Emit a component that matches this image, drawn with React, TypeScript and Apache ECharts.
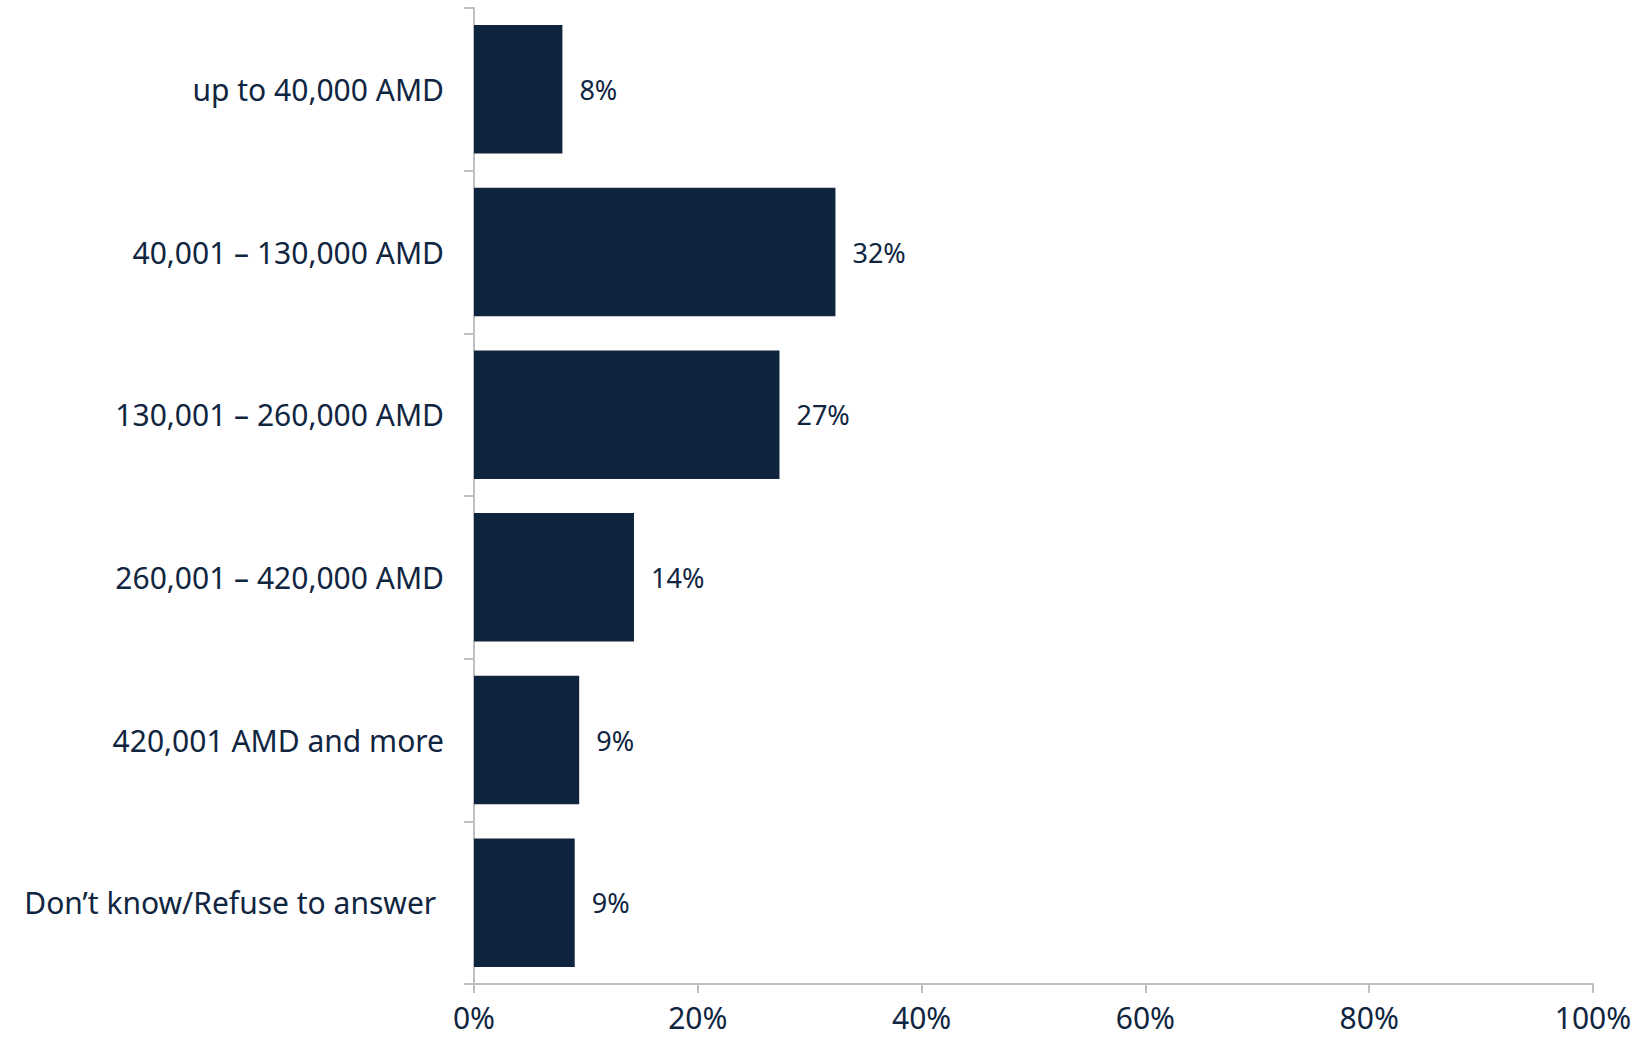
import React, { useEffect, useRef } from "react";
import * as echarts from "echarts";

const categories = [
  "up to 40,000 AMD",
  "40,001 – 130,000 AMD",
  "130,001 – 260,000 AMD",
  "260,001 – 420,000 AMD",
  "420,001 AMD and more",
  "Don’t know/Refuse to answer ",
];
const shares = [7.9, 32.3, 27.3, 14.3, 9.4, 9.0];
const xTicks = [0, 20, 40, 60, 80, 100];

const NAVY = "#0F243E";
const TEXT = "#10253F";
const AXIS = "#BFBFBF";
const FONT = "'Noto Sans', 'DejaVu Sans', sans-serif";

export default function App() {
  const ref = useRef<HTMLDivElement>(null);
  useEffect(() => {
    if (!ref.current) return;
    const chart = echarts.init(ref.current, undefined, { renderer: "svg" });
    chart.setOption({
      animation: false,
      backgroundColor: "#ffffff",
      grid: { left: 474, right: 55, top: 8, bottom: 54, containLabel: false },
      xAxis: {
        type: "value",
        min: xTicks[0],
        max: xTicks[xTicks.length - 1],
        interval: 20,
        splitLine: { show: false },
        axisLine: { show: true, lineStyle: { color: AXIS, width: 2 } },
        axisTick: { show: true, length: 9, lineStyle: { color: AXIS, width: 2 } },
        axisLabel: {
          formatter: (v: number) => `${v}%`,
          color: TEXT,
          fontFamily: FONT,
          fontSize: 30,
          lineHeight: 30,
          margin: 18,
        },
      },
      yAxis: {
        type: "category",
        data: categories,
        inverse: true,
        axisLine: { show: true, lineStyle: { color: AXIS, width: 2 } },
        axisTick: { show: true, length: 10, lineStyle: { color: AXIS, width: 2 } },
        axisLabel: {
          color: TEXT,
          fontFamily: FONT,
          fontSize: 30,
          margin: 30,
        },
      },
      series: [
        {
          type: "bar",
          data: shares,
          barCategoryGap: "21%",
          itemStyle: { color: NAVY },
          label: {
            show: true,
            position: "right",
            distance: 17,
            color: TEXT,
            fontFamily: FONT,
            fontSize: 27,
            formatter: (p: any) => `${Math.round(p.value)}%`,
          },
        },
      ],
    });
    return () => chart.dispose();
  }, []);
  return (
    <div
      ref={ref}
      style={{ position: "fixed", left: 0, top: 0, width: 1648, height: 1038, background: "#fff" }}
    />
  );
}
